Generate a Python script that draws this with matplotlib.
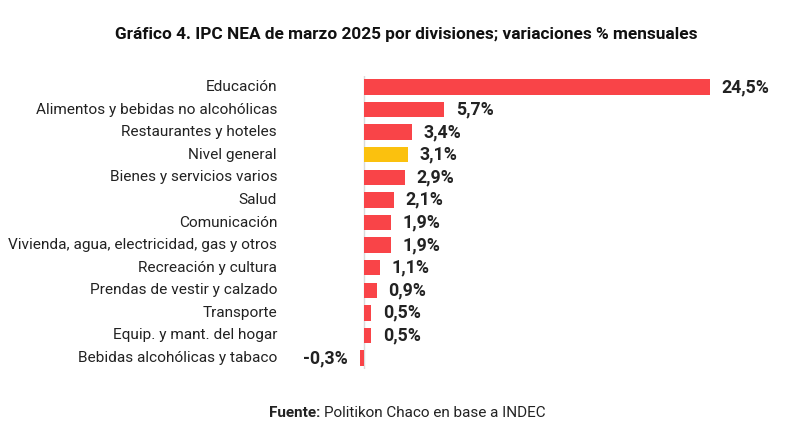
import matplotlib
matplotlib.use("Agg")
import matplotlib.pyplot as plt
import matplotlib.transforms as mtransforms

categories = [
    "Educación",
    "Alimentos y bebidas no alcohólicas",
    "Restaurantes y hoteles",
    "Nivel general",
    "Bienes y servicios varios",
    "Salud",
    "Comunicación",
    "Vivienda, agua, electricidad, gas y otros",
    "Recreación y cultura",
    "Prendas de vestir y calzado",
    "Transporte",
    "Equip. y mant. del hogar",
    "Bebidas alcohólicas y tabaco",
]
values = [24.5, 5.7, 3.4, 3.1, 2.9, 2.1, 1.9, 1.9, 1.1, 0.9, 0.5, 0.5, -0.3]
highlight = "Nivel general"

RED = "#F94448"
YELLOW = "#FBC10E"

plt.rcParams["font.family"] = ["Roboto", "DejaVu Sans"]

fig = plt.figure(figsize=(8, 4.28), dpi=100)
W, H = 800, 428
px_per_unit = 14.12
x0_px = 364
xmin, xmax = -4, 28
left_px = x0_px + xmin * px_per_unit
width_px = (xmax - xmin) * px_per_unit
slot = 22.6
top_px = 87 - slot / 2
bot_px = 358 + slot / 2
ax = fig.add_axes([left_px / W, 1 - bot_px / H, width_px / W, (bot_px - top_px) / H])

n = len(categories)
ypos = list(range(n))
colors = [YELLOW if c == highlight else RED for c in categories]
ax.barh(ypos, values, height=0.68, color=colors, zorder=2)
ax.set_xlim(xmin, xmax)
ax.set_ylim(n - 0.5, -0.5)
ax.axvline(0, color="#DADADA", lw=1, zorder=1)

label_tr = mtransforms.blended_transform_factory(fig.transFigure, ax.transData)
for y, v in zip(ypos, values):
    lab = f"{v:.1f}%".replace(".", ",")
    if v >= 0:
        ax.annotate(lab, (v, y), xytext=(8.5, 0), textcoords="offset points",
                    ha="left", va="center", fontsize=12.8, fontweight="bold", color="#222222")
    else:
        ax.annotate(lab, (v, y), xytext=(-8.5, 0), textcoords="offset points",
                    ha="right", va="center", fontsize=12.8, fontweight="bold", color="#222222")
    ax.text(277 / W, y, categories[y], transform=label_tr, ha="right", va="center",
            fontsize=11.1, color="#222222")

ax.set_xticks([])
ax.set_yticks([])
for s in ax.spines.values():
    s.set_visible(False)

fig.text(406 / W, 1 - 35 / H, "Gráfico 4. IPC NEA de marzo 2025 por divisiones; variaciones % mensuales",
         ha="center", va="center", fontsize=12.4, fontweight="bold", color="#111111")
fig.text(320 / W, 1 - 413 / H, "Fuente:", ha="right", va="center", fontsize=11,
         fontweight="bold", color="#222222")
fig.text(324 / W, 1 - 413 / H, "Politikon Chaco en base a INDEC", ha="left", va="center",
         fontsize=11, color="#222222")

fig.savefig("out.png", dpi=100, facecolor="white")
